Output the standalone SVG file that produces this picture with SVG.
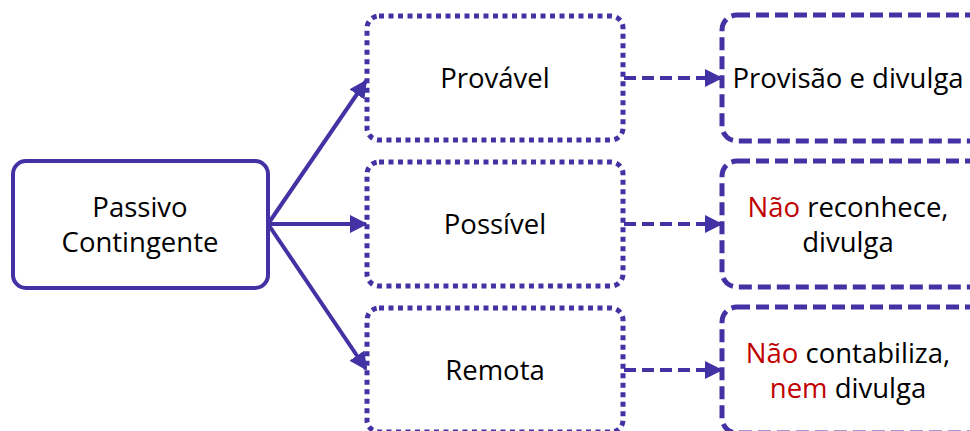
<svg xmlns="http://www.w3.org/2000/svg" width="970" height="431" viewBox="0 0 970 431">
<style>
text{font-family:"Open Sans","Liberation Sans",sans-serif;font-size:27.5px;fill:#000;text-anchor:middle}
.red{fill:#C00000}
.solid{fill:#fff;stroke:#4232A3;stroke-width:4}
.dot{fill:#fff;stroke:#4232A3;stroke-width:5;stroke-dasharray:5 4.5}
.dash{fill:#fff;stroke:#4232A3;stroke-width:5;stroke-dasharray:13 6}
.c{stroke:#4232A3;stroke-width:4;fill:none}
.cd{stroke:#4232A3;stroke-width:4;fill:none;stroke-dasharray:12 6}
</style>
<defs>
<marker id="ah" viewBox="0 0 10 10" refX="9" refY="5" markerWidth="4.5" markerHeight="4.5" orient="auto" markerUnits="strokeWidth">
<path d="M0,0 L10,5 L0,10 z" fill="#4232A3"/>
</marker>
</defs>
<g id="connectors">
<line class="c" x1="268" y1="224" x2="366" y2="81" marker-end="url(#ah)"/>
<line class="c" x1="268" y1="224" x2="366" y2="224" marker-end="url(#ah)"/>
<line class="c" x1="268" y1="224" x2="366" y2="369" marker-end="url(#ah)"/>
<line class="cd" x1="624" y1="78" x2="721" y2="78" marker-end="url(#ah)"/>
<line class="cd" x1="624" y1="224" x2="721" y2="224" marker-end="url(#ah)"/>
<line class="cd" x1="624" y1="370" x2="721" y2="370" marker-end="url(#ah)"/>
</g>
<g id="passivo">
<rect class="solid" x="13" y="161" width="255" height="127" rx="13"/>
<text x="140" y="217">Passivo</text>
<text x="140" y="252">Contingente</text>
</g>
<g id="provavel">
<rect class="dot" x="367" y="16" width="256" height="124" rx="12"/>
<text x="495" y="88">Provável</text>
</g>
<g id="possivel">
<rect class="dot" x="367" y="162" width="256" height="124" rx="12"/>
<text x="495" y="234">Possível</text>
</g>
<g id="remota">
<rect class="dot" x="367" y="308" width="256" height="124" rx="12"/>
<text x="495" y="380">Remota</text>
</g>
<g id="provisao">
<rect class="dash" x="722" y="15" width="270" height="126" rx="15"/>
<text x="848" y="88">Provisão e divulga</text>
</g>
<g id="nao-reconhece">
<rect class="dash" x="722" y="161" width="270" height="126" rx="15"/>
<text x="848" y="217"><tspan class="red">Não</tspan> reconhece,</text>
<text x="848" y="252">divulga</text>
</g>
<g id="nao-contabiliza">
<rect class="dash" x="722" y="307" width="270" height="126" rx="15"/>
<text x="848" y="363"><tspan class="red">Não</tspan> contabiliza,</text>
<text x="848" y="398"><tspan class="red">nem</tspan> divulga</text>
</g>
</svg>
